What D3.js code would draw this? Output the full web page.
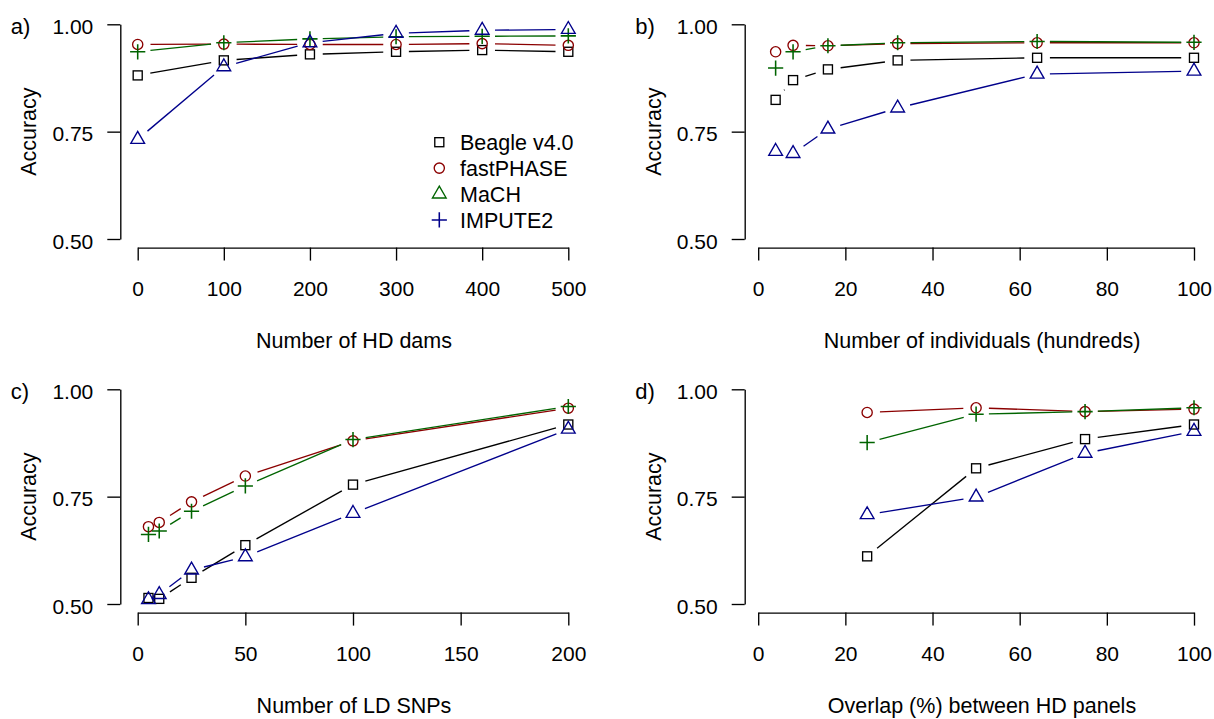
<!DOCTYPE html>
<html><head><meta charset="utf-8">
<script src="https://cdn.jsdelivr.net/npm/d3@7"></script>
<style>body{margin:0;background:#fff} svg{display:block}</style>
</head><body><div id="chart"></div>
<script>
// ---------- data ----------
const seriesNames = ["Beagle v4.0", "fastPHASE", "MaCH", "IMPUTE2"];
const plotColors = ["#000000", "#8B0000", "#006400", "#00008B"];
const plotShapes = ["square", "circle", "plus", "triangle"];

const legendLabels = ["Beagle v4.0", "fastPHASE", "MaCH", "IMPUTE2"];
const legendShapes = ["square", "circle", "triangle", "plus"];
const legendColors = ["#000000", "#8B0000", "#006400", "#00008B"];

const yTicks = [0.50, 0.75, 1.00];

// panel a
const xA = [0, 100, 200, 300, 400, 500];
const xTicksA = [0, 100, 200, 300, 400, 500];
const beagleA = [0.881, 0.916, 0.930, 0.936, 0.940, 0.936];
const fastA   = [0.953, 0.954, 0.953, 0.953, 0.955, 0.951];
const machA   = [0.936, 0.957, 0.966, 0.971, 0.972, 0.973];
const imputeA = [0.732, 0.901, 0.957, 0.979, 0.986, 0.988];

// panel b
const xB = [4, 8, 16, 32, 64, 100];
const xTicksB = [0, 20, 40, 60, 80, 100];
const beagleB = [0.824, 0.870, 0.895, 0.916, 0.922, 0.922];
const fastB   = [0.936, 0.951, 0.950, 0.955, 0.957, 0.957];
const machB   = [0.898, 0.936, 0.950, 0.957, 0.960, 0.958];
const imputeB = [0.704, 0.699, 0.756, 0.805, 0.884, 0.891];

// panel c
const xC = [5, 10, 25, 50, 100, 200];
const xTicksC = [0, 50, 100, 150, 200];
const beagleC = [0.514, 0.512, 0.561, 0.637, 0.778, 0.918];
const fastC   = [0.680, 0.690, 0.738, 0.798, 0.880, 0.956];
const machC   = [0.662, 0.670, 0.716, 0.775, 0.883, 0.960];
const imputeC = [0.510, 0.522, 0.579, 0.610, 0.711, 0.907];

// panel d
const xD = [25, 50, 75, 100];
const xTicksD = [0, 20, 40, 60, 80, 100];
const beagleD = [0.611, 0.816, 0.884, 0.918];
const fastD   = [0.946, 0.957, 0.948, 0.954];
const machD   = [0.876, 0.942, 0.948, 0.957];
const imputeD = [0.708, 0.749, 0.851, 0.902];

const panelLabels = ["a)", "b)", "c)", "d)"];
const xTitles = ["Number of HD dams", "Number of individuals (hundreds)", "Number of LD SNPs", "Overlap (%) between HD panels"];
const xDomains = [[0, 500], [0, 100], [0, 200], [0, 100]];

// ---------- layout ----------
const W = 1214, H = 719;
const FONT = "'Liberation Sans', Arial, Helvetica, sans-serif";
const rowTop = [24.3, 389.3], rowBot = [239, 604];
const colAxis = [120.3, 744.7];
const colRange = [[137.7, 568.3], [758.2, 1194]];
const colTitleX = [354, 982];
const GAP = 12.8;

const panels = [
  {x: xA, ticks: xTicksA, ys: [beagleA, fastA, machA, imputeA]},
  {x: xB, ticks: xTicksB, ys: [beagleB, fastB, machB, imputeB]},
  {x: xC, ticks: xTicksC, ys: [beagleC, fastC, machC, imputeC]},
  {x: xD, ticks: xTicksD, ys: [beagleD, fastD, machD, imputeD]}
];

const svg = d3.select("#chart").append("svg")
  .attr("width", W).attr("height", H)
  .attr("font-family", FONT);
svg.append("rect").attr("width", W).attr("height", H).attr("fill", "#fff");

function marker(g, shape, cx, cy, color) {
  const R = 5.1, sw = 1.35;
  if (shape === "square") {
    const s = 2 * R * 0.886;
    g.append("rect").attr("x", cx - s / 2).attr("y", cy - s / 2).attr("width", s).attr("height", s)
      .attr("fill", "none").attr("stroke", color).attr("stroke-width", sw);
  } else if (shape === "circle") {
    g.append("circle").attr("cx", cx).attr("cy", cy).attr("r", R)
      .attr("fill", "none").attr("stroke", color).attr("stroke-width", sw);
  } else if (shape === "triangle") {
    const r = 1.555 * R, xc = 1.3468 * R, yc = 0.7776 * R;
    g.append("path").attr("d", `M${cx},${cy - r}L${cx + xc},${cy + yc}L${cx - xc},${cy + yc}Z`)
      .attr("fill", "none").attr("stroke", color).attr("stroke-width", sw);
  } else if (shape === "plus") {
    const h = 7.6;
    g.append("path").attr("d", `M${cx - h},${cy}H${cx + h}M${cx},${cy - h}V${cy + h}`)
      .attr("fill", "none").attr("stroke", color).attr("stroke-width", sw + 0.2);
  }
}

panels.forEach((p, i) => {
  const row = Math.floor(i / 2), col = i % 2;
  const x = d3.scaleLinear().domain(xDomains[i]).range(colRange[col]);
  const y = d3.scaleLinear().domain([0.5, 1.0]).range([rowBot[row], rowTop[row]]);
  const g = svg.append("g");
  const axisY = rowBot[row] + 8.6;

  // x axis
  const gx = g.append("g").attr("transform", `translate(0,${axisY})`)
    .call(d3.axisBottom(x).tickValues(p.ticks).tickSize(13).tickSizeOuter(0).tickFormat(d3.format("d")));
  gx.attr("font-size", 21).attr("font-family", FONT);
  gx.select(".domain").attr("stroke", "#000").attr("stroke-width", 1.35);
  gx.selectAll(".tick line").attr("stroke", "#000").attr("stroke-width", 1.35);
  gx.selectAll(".tick text").attr("fill", "#000").attr("y", 48.5).attr("dy", null);

  // y axis
  const gy = g.append("g").attr("transform", `translate(${colAxis[col]},0)`)
    .call(d3.axisLeft(y).tickValues(yTicks).tickSize(13).tickSizeOuter(0).tickFormat(d3.format(".2f")));
  gy.attr("font-size", 21).attr("font-family", FONT);
  gy.select(".domain").attr("stroke", "#000").attr("stroke-width", 1.35);
  gy.selectAll(".tick line").attr("stroke", "#000").attr("stroke-width", 1.35);
  gy.selectAll(".tick text").attr("fill", "#000").attr("x", -27).attr("y", 9.3).attr("dy", null);

  // titles
  g.append("text").attr("x", colTitleX[col]).attr("y", axisY + 100.2)
    .attr("text-anchor", "middle").attr("font-size", 21.5).text(xTitles[i]);
  const ay = (rowTop[row] + rowBot[row]) / 2, ax = colAxis[col] - 84;
  g.append("text").attr("transform", `translate(${ax},${ay}) rotate(-90)`)
    .attr("text-anchor", "middle").attr("font-size", 21.5).text("Accuracy");
  g.append("text").attr("x", colAxis[col] - 109.5).attr("y", rowTop[row] + 9.3)
    .attr("font-size", 22).text(panelLabels[i]);

  // series (type "b": lines with gaps around points)
  p.ys.forEach((vals, s) => {
    const pts = vals.map((v, k) => [x(p.x[k]), y(v)]);
    const sg = g.append("g");
    for (let k = 0; k < pts.length - 1; k++) {
      const [x0, y0] = pts[k], [x1, y1] = pts[k + 1];
      const L = Math.hypot(x1 - x0, y1 - y0);
      if (L > 2 * GAP) {
        const ux = (x1 - x0) / L, uy = (y1 - y0) / L;
        sg.append("line")
          .attr("x1", x0 + ux * GAP).attr("y1", y0 + uy * GAP)
          .attr("x2", x1 - ux * GAP).attr("y2", y1 - uy * GAP)
          .attr("stroke", plotColors[s]).attr("stroke-width", 1.35);
      }
    }
    pts.forEach(([cx, cy]) => marker(sg, plotShapes[s], cx, cy, plotColors[s]));
  });
});

// legend (panel a)
const lg = svg.append("g");
legendLabels.forEach((lab, k) => {
  const base = 150 + 25.9 * k;
  marker(lg, legendShapes[k], 439.3, base - 7.8, legendColors[k]);
  lg.append("text").attr("x", 460).attr("y", base).attr("font-size", 21.5).attr("fill", "#000").text(lab);
});
</script>
</body></html>
